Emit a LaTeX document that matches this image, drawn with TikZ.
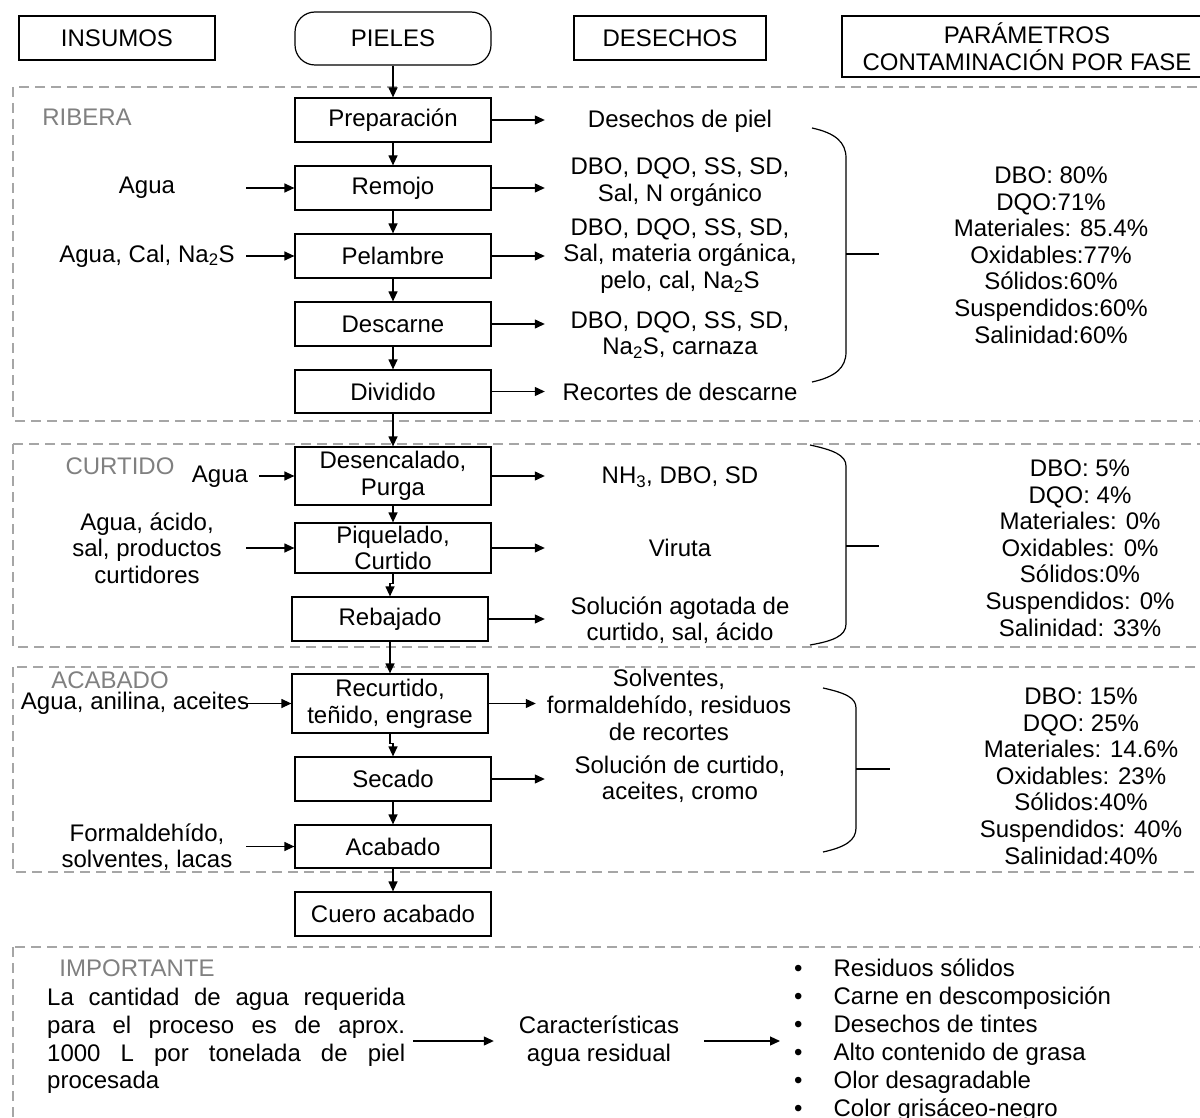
\documentclass[tikz,border=0pt]{standalone}
\usepackage{fontspec}
\setmainfont{Liberation Sans}
\usetikzlibrary{arrows.meta}
\definecolor{grisfase}{HTML}{808080}
\definecolor{grislinea}{HTML}{A6A6A6}

\tikzset{
	caja/.style={draw, line width=1.2pt, minimum width=196pt, minimum height=44pt, align=center, inner sep=0pt},
	texto/.style={align=center, inner sep=0pt},
	entrada/.style={texto, minimum width=198pt},
	salida/.style={texto, minimum width=270pt},
	fase/.style={text=grisfase, inner sep=0pt},
	zona/.style={draw=grislinea, line width=1.2pt, dash pattern=on 10pt off 6pt},
	flecha/.style={line width=1.2pt, -{Triangle[length=10pt,width=9pt]}},
	llave/.style={line width=1.2pt},
}

\begin{document}
\begin{tikzpicture}[x=1pt, y=-1pt, font=\fontsize{24}{26.6}\selectfont]
		\useasboundingbox (0,0) rectangle (1200,1118);
		% dashed zones
		\draw[zona] (13,87) rectangle (1215,421);
		\draw[zona] (13,444) rectangle (1215,647);
		\draw[zona] (13,667) rectangle (1215,872);
		\draw[zona] (13,947) rectangle (1215,1135);
		\node[fase] (ribera) at (87,117) {RIBERA};
		\node[fase] (curtido) at (120,466) {CURTIDO};
		\node[fase] (acabadofase) at (110,680) {ACABADO};
		\node[fase] (importante) at (137,968) {IMPORTANTE};
		% headers
		\node[caja, minimum width=196pt] (insumos) at (117,38) {INSUMOS};
		\node[caja, rounded corners=20pt, minimum height=53pt] (pieles) at (393,38.5) {PIELES};
		\node[caja, minimum width=192pt] (desechos) at (670,38) {DESECHOS};
		\node[caja, minimum width=370pt, minimum height=61pt] (parametros) at (1027,46.5) {PARÁMETROS\\CONTAMINACIÓN POR FASE};
		% process
		\node[caja] (prep) at (393,120) {Preparación};
		\node[caja] (remojo) at (393,188) {Remojo};
		\node[caja] (pelambre) at (393,256) {Pelambre};
		\node[caja] (descarne) at (393,324) {Descarne};
		\node[caja, minimum height=43pt] (dividido) at (393,391.5) {Dividido};
		\node[caja, minimum height=58pt] (desencalado) at (393,476) {Desencalado,\\Purga};
		\node[caja, minimum height=50pt] (piquelado) at (393,548) {Piquelado,\\Curtido};
		\node[caja] (rebajado) at (390,619) {Rebajado};
		\node[caja, minimum height=59pt] (recurtido) at (390,703.5) {Recurtido,\\teñido, engrase};
		\node[caja] (secado) at (393,779) {Secado};
		\node[caja, minimum height=43pt] (acabado) at (393,846.5) {Acabado};
		\node[caja] (cuero) at (393,914) {Cuero acabado};
		\draw[flecha] (pieles) -- (prep);
		\draw[flecha] (prep) -- (remojo);
		\draw[flecha] (remojo) -- (pelambre);
		\draw[flecha] (pelambre) -- (descarne);
		\draw[flecha] (descarne) -- (dividido);
		\draw[flecha] (dividido) -- (desencalado);
		\draw[flecha] (desencalado) -- (piquelado);
		\draw[flecha] (piquelado.south) -- ++(0,10) -| (rebajado.north);
		\draw[flecha] (rebajado) -- (recurtido);
		\draw[flecha] (recurtido.south) -- ++(0,10) -| (secado.north);
		\draw[flecha] (secado) -- (acabado);
		\draw[flecha] (acabado) -- (cuero);
		% inputs
		\node[entrada] (agua1) at (147,188) {Agua};
		\node[entrada] (agua2) at (147,256) {Agua, Cal, Na\textsubscript{2}S};
		\node[texto, minimum width=78pt] (agua3) at (220,477) {Agua};
		\node[entrada] (agua4) at (147,548) {Agua, ácido,\\sal, productos\\curtidores};
		\node[texto] (agua5) at (135,703) {Agua, anilina, aceites};
		\node[entrada] (formal) at (147,847) {Formaldehído,\\solventes, lacas};
		\draw[flecha] (agua1.east |- remojo.west) -- (remojo.west);
		\draw[flecha] (agua2.east |- pelambre.west) -- (pelambre.west);
		\draw[flecha] (agua3.east |- desencalado.west) -- (desencalado.west);
		\draw[flecha] (agua4.east |- piquelado.west) -- (piquelado.west);
		\draw[flecha, shorten <=-8pt] (agua5.east |- recurtido.west) -- (recurtido.west);
		\draw[flecha] (formal.east |- acabado.west) -- (acabado.west);
		% wastes
		\node[salida] (w1) at (680,121) {Desechos de piel};
		\node[salida] (w2) at (680,182) {DBO, DQO, SS, SD,\\Sal, N orgánico};
		\node[salida] (w3) at (680,256) {DBO, DQO, SS, SD,\\Sal, materia orgánica,\\pelo, cal, Na\textsubscript{2}S};
		\node[salida] (w4) at (680,335) {DBO, DQO, SS, SD,\\Na\textsubscript{2}S, carnaza};
		\node[salida] (w5) at (680,392) {Recortes de descarne};
		\node[salida] (w6) at (680,477) {NH\textsubscript{3}, DBO, SD};
		\node[salida] (w7) at (680,548) {Viruta};
		\node[salida] (w8) at (680,620) {Solución agotada de\\curtido, sal, ácido};
		\node[salida, minimum width=266pt] (w9) at (669,705) {Solventes,\\formaldehído, residuos\\de recortes};
		\node[salida] (w10) at (680,779) {Solución de curtido,\\aceites, cromo};
		\draw[flecha] (prep.east) -- (prep.east -| w1.west);
		\draw[flecha] (remojo.east) -- (remojo.east -| w2.west);
		\draw[flecha] (pelambre.east) -- (pelambre.east -| w3.west);
		\draw[flecha] (descarne.east) -- (descarne.east -| w4.west);
		\draw[flecha] (dividido.east) -- (dividido.east -| w5.west);
		\draw[flecha] (desencalado.east) -- (desencalado.east -| w6.west);
		\draw[flecha] (piquelado.east) -- (piquelado.east -| w7.west);
		\draw[flecha] (rebajado.east) -- (rebajado.east -| w8.west);
		\draw[flecha] (recurtido.east) -- (recurtido.east -| w9.west);
		\draw[flecha] (secado.east) -- (secado.east -| w10.west);
		% braces
		\draw[llave] (812,128) .. controls (835,133) and (846,142) .. (846,158) -- (846,352) .. controls (846,368) and (835,377) .. (812,382);
		\draw[llave] (846,254) -- (879,254);
		\draw[llave] (810,445) .. controls (833,450) and (846,455) .. (846,466) -- (846,624) .. controls (846,636) and (833,641) .. (810,645);
		\draw[llave] (846,546) -- (879,546);
		\draw[llave] (823,688) .. controls (846,693) and (856,698) .. (856,708) -- (856,828) .. controls (856,840) and (846,847) .. (823,852);
		\draw[llave] (856,769) -- (890,769);
		% parameters
		\node[texto] (par1) at (1051,255) {DBO: 80\%\\DQO:71\%\\Materiales: 85.4\%\\Oxidables:77\%\\Sólidos:60\%\\Suspendidos:60\%\\Salinidad:60\%};
		\node[texto] (par2) at (1080,548) {DBO: 5\%\\DQO: 4\%\\Materiales: 0\%\\Oxidables: 0\%\\Sólidos:0\%\\Suspendidos: 0\%\\Salinidad: 33\%};
		\node[texto] (par3) at (1081,776) {DBO: 15\%\\DQO: 25\%\\Materiales: 14.6\%\\Oxidables: 23\%\\Sólidos:40\%\\Suspendidos: 40\%\\Salinidad:40\%};
		% important
		\node[texto, anchor=west, text width=358pt, align=justify, font=\fontsize{24}{27.7}\selectfont] (parrafo) at (47,1041) {La cantidad de agua requerida\linebreak para el proceso es de aprox.\linebreak 1000 L por tonelada de piel\linebreak procesada};
		\node[texto, minimum width=210pt, font=\fontsize{24}{28}\selectfont] (caract) at (599,1041) {Características\\agua residual};
		\node[texto, anchor=west, inner xsep=14pt, align=left, font=\fontsize{24}{28}\selectfont] (lista) at (780,1040) {\textbullet\hspace{31pt}Residuos sólidos\\\textbullet\hspace{31pt}Carne en descomposición\\\textbullet\hspace{31pt}Desechos de tintes\\\textbullet\hspace{31pt}Alto contenido de grasa\\\textbullet\hspace{31pt}Olor desagradable\\\textbullet\hspace{31pt}Color grisáceo-negro};
		\draw[flecha, shorten <=8pt] (parrafo.east) -- (parrafo.east -| caract.west);
		\draw[flecha] (caract.east) -- (caract.east -| lista.west);
\end{tikzpicture}
\end{document}
